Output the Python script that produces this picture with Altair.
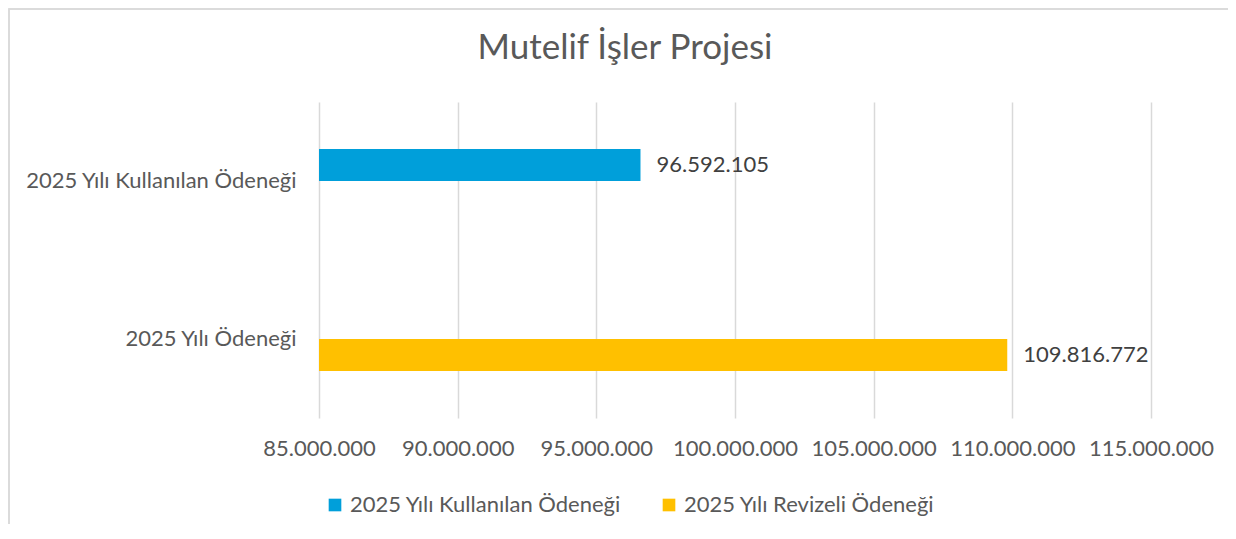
import altair as alt
import pandas as pd

title_text = "Mutelif İşler Projesi"
categories = ["2025 Yılı Kullanılan Ödeneği", "2025 Yılı Ödeneği"]
series = ["2025 Yılı Kullanılan Ödeneği", "2025 Yılı Revizeli Ödeneği"]
values = [96592105, 109816772]
colors = ["#009FDA", "#FFC000"]
x_ticks = [85000000, 90000000, 95000000, 100000000, 105000000, 110000000, 115000000]

df = pd.DataFrame({"category": categories, "series": series, "value": values})

FONT = "Lato"
GREY = "#595959"
FS = 22

y_enc = alt.Y("category:N", sort=categories, title=None,
              scale=alt.Scale(paddingInner=0.594, paddingOuter=0.297),
              axis=alt.Axis(labelFontSize=FS, labelColor=GREY, labelFont=FONT,
                            labelPadding=23, ticks=False, domain=False, labelLimit=0,
                            grid=False))
x_enc = alt.X("value:Q", title=None,
              scale=alt.Scale(domain=[x_ticks[0], x_ticks[-1]], zero=False, nice=False),
              axis=alt.Axis(values=x_ticks, format=",d", labelFontSize=FS, labelColor=GREY,
                            labelFont=FONT, labelPadding=20, ticks=False, tickSize=0,
                            labelOverlap=False, labelFlush=False,
                            domain=False, grid=True, gridColor="#D9D9D9", gridWidth=1.5))
yoff = alt.YOffset("series:N", sort=series, scale=alt.Scale(paddingInner=0, paddingOuter=0))

base = alt.Chart(df)

bars = base.mark_bar(clip=True).encode(
    x=x_enc,
    y=y_enc,
    yOffset=yoff,
    color=alt.Color("series:N", sort=series,
                    scale=alt.Scale(domain=series, range=colors),
                    legend=alt.Legend(title=None, orient="none", direction="horizontal",
                                      legendX=5, legendY=392,
                                      symbolType="square", symbolSize=160,
                                      symbolStrokeWidth=0, symbolOpacity=1,
                                      labelFontSize=FS, labelColor=GREY, labelFont=FONT,
                                      labelOffset=4, columnPadding=36, labelLimit=0)),
)

labels = base.mark_text(align="left", baseline="middle", dx=16, fontSize=FS,
                        font=FONT, color="#404040").encode(
    x=alt.X("value:Q"),
    y=alt.Y("category:N", sort=categories),
    yOffset=alt.YOffset("series:N", sort=series),
    text=alt.Text("value:Q", format=",d"),
)

frame = alt.Chart(df).mark_rect(filled=False, stroke="#D9D9D9", strokeWidth=1.5, clip=False).encode(
    x=alt.value(-310), x2=alt.value(1000), y=alt.value(-93), y2=alt.value(480)
)

chart = alt.layer(frame, bars, labels).properties(
    width=832,
    height=316,
    title=alt.TitleParams(title_text, fontSize=35, font=FONT, color=GREY, fontWeight="normal",
                          anchor="middle", dx=-110, offset=-58),
    autosize=alt.AutoSizeParams(type="none"),
    padding={"left": 311, "top": 94, "right": 77, "bottom": 106},
).configure(
    locale={"number": {"decimal": ",", "thousands": ".", "grouping": [3], "currency": ["", " TL"]}},
).configure_view(stroke=None)

chart.save("out.html", embed_options={"renderer": "svg", "actions": False})
